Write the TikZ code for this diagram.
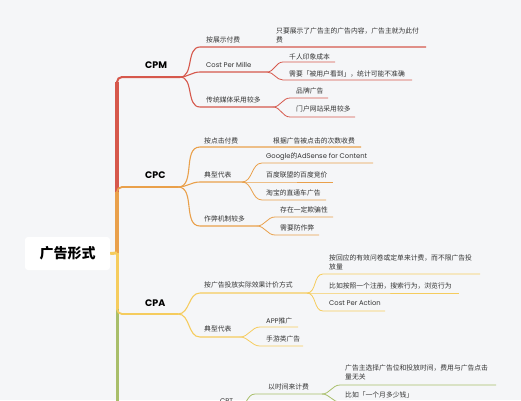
\documentclass[tikz,border=0pt]{standalone}
\usepackage{fontspec}
\setmainfont{Poppins}
\newfontfamily\cjk{Noto Sans CJK SC}
\newfontfamily\lat{Poppins}
\definecolor{bg}{HTML}{F5F6F8}
\definecolor{cRed}{HTML}{D6584C}
\definecolor{cOrg}{HTML}{E9A04B}
\definecolor{cYel}{HTML}{F5CC5E}
\definecolor{cGrn}{HTML}{A8BE6A}
\definecolor{txt}{HTML}{333333}
\begin{document}
\begin{tikzpicture}[x=1pt,y=-1pt,
  sub/.style={anchor=west,inner sep=0pt,font=\cjk\fontsize{6.8}{9}\selectfont,text=txt,align=left},
  maintopic/.style={anchor=west,inner sep=0pt,font=\lat\bfseries\fontsize{9.5}{11}\selectfont,text=black},
  rootbox/.style={fill=white,rounded corners=3pt,minimum width=85pt,minimum height=33pt,inner sep=0pt,font=\cjk\bfseries\fontsize{14}{16}\selectfont,text=black},
  l1/.style={line width=1.1pt},
  l2/.style={line width=0.8pt},
  curve/.style={out=0,in=180}]
\useasboundingbox[fill=bg] (0,0) rectangle (521,400);

% root
\node[rootbox] (root) at (67.5,253.5) {广告形式};
\coordinate (tr) at (117,253);
\coordinate (mCPM) at (180,77);
\coordinate (mCPC) at (178,187);
\coordinate (mCPA) at (178,314);
\coordinate (tbot) at (117,420);
\coordinate (kCPM) at (117,82);
\coordinate (kCPC) at (117,192);
\coordinate (kCPA) at (117,309);

% trunk
\draw[cRed,line width=2pt,rounded corners=5pt] (tr) |- (mCPM);
\draw[cRed,line width=3.6pt] (tr) -- (kCPM);
\draw[cGrn,line width=3pt] (tr) -- (tbot);
\draw[cOrg,line width=1.8pt,rounded corners=5pt] (tr) |- (mCPC);
\draw[cOrg,line width=3.2pt] (tr) -- (kCPC);
\draw[cYel,line width=1.8pt,rounded corners=5pt] (tr) |- (mCPA);
\draw[cYel,line width=3pt] (tr) -- (kCPA);
\draw[cYel,line width=3pt] (root.east) -- (tr);

% main topics
\node[maintopic] (tCPM) at (145,65) {CPM};
\node[maintopic] (tCPC) at (145,175) {CPC};
\node[maintopic] (tCPA) at (145,303) {CPA};

% ---------- CPM ----------
\coordinate (s1a) at (200,47); \coordinate (s1b) at (426,47);
\node[sub] (s1) at (206,40) {按展示付费};
\node[sub] (lf1) at (276,35.5) {只要展示了广告主的广告内容，广告主就为此付\\费};
\draw[cRed,l1] (mCPM) to[curve] (s1a) -- (s1b);

\coordinate (s2a) at (200,72); \coordinate (s2b) at (267,72);
\node[sub] (s2) at (206,65) {{\lat Cost Per Mille}};
\draw[cRed,l1] (mCPM) to[curve] (s2a) -- (s2b);
\coordinate (a21) at (283,62); \coordinate (b21) at (335,62);
\coordinate (a22) at (283,80); \coordinate (b22) at (412,80);
\node[sub] (lf21) at (289,57) {千人印象成本};
\node[sub] (lf22) at (289,74) {需要「被用户看到」，统计可能不准确};
\draw[cRed,l2] (s2b) to[curve] (a21) -- (b21);
\draw[cRed,l2] (s2b) to[curve] (a22) -- (b22);

\coordinate (s3a) at (200,107); \coordinate (s3b) at (273,107);
\node[sub] (s3) at (206,100) {传统媒体采用较多};
\draw[cRed,l1] (mCPM) to[curve] (s3a) -- (s3b);
\coordinate (a31) at (290,98); \coordinate (b31) at (328,98);
\coordinate (a32) at (290,117); \coordinate (b32) at (355,117);
\node[sub] (lf31) at (296,91) {品牌广告};
\node[sub] (lf32) at (296,109) {门户网站采用较多};
\draw[cRed,l2] (s3b) to[curve] (a31) -- (b31);
\draw[cRed,l2] (s3b) to[curve] (a32) -- (b32);

% ---------- CPC ----------
\coordinate (s4a) at (200,147); \coordinate (s4b) at (361,147);
\node[sub] (s4) at (204,141) {按点击付费};
\node[sub] (lf4) at (273,141) {根据广告被点击的次数收费};
\draw[cOrg,l1] (mCPC) to[curve] (s4a) -- (s4b);

\coordinate (s5a) at (200,182); \coordinate (s5b) at (242,182);
\node[sub] (s5) at (204,175) {典型代表};
\draw[cOrg,l1] (mCPC) to[curve] (s5a) -- (s5b);
\coordinate (a51) at (262,163); \coordinate (b51) at (373,163);
\coordinate (a52) at (262,182); \coordinate (b52) at (333,182);
\coordinate (a53) at (262,200); \coordinate (b53) at (326,200);
\node[sub] (lf51) at (266,157) {{\lat Google}的{\lat AdSense for Content}};
\node[sub] (lf52) at (266,175) {百度联盟的百度竞价};
\node[sub] (lf53) at (266,193) {淘宝的直通车广告};
\draw[cOrg,l2] (s5b) to[curve] (a51) -- (b51);
\draw[cOrg,l2] (s5b) -- (a52) -- (b52);
\draw[cOrg,l2] (s5b) to[curve] (a53) -- (b53);

\coordinate (s6a) at (200,226); \coordinate (s6b) at (257,226);
\node[sub] (s6) at (204,219) {作弊机制较多};
\draw[cOrg,l1] (mCPC) to[curve] (s6a) -- (s6b);
\coordinate (a61) at (275,217); \coordinate (b61) at (333,217);
\coordinate (a62) at (275,235); \coordinate (b62) at (319,235);
\node[sub] (lf61) at (280,210) {存在一定欺骗性};
\node[sub] (lf62) at (280,228) {需要防作弊};
\draw[cOrg,l2] (s6b) to[curve] (a61) -- (b61);
\draw[cOrg,l2] (s6b) to[curve] (a62) -- (b62);

% ---------- CPA ----------
\coordinate (s7a) at (200,293); \coordinate (s7b) at (307,293);
\node[sub] (s7) at (204,285) {按广告投放实际效果计价方式};
\draw[cYel,l1] (mCPA) to[curve] (s7a) -- (s7b);
\coordinate (a71) at (323,274); \coordinate (b71) at (480,274);
\coordinate (a72) at (323,293); \coordinate (b72) at (459,293);
\coordinate (a73) at (323,311); \coordinate (b73) at (385,311);
\node[sub] (lf71) at (329,262.5) {按回应的有效问卷或定单来计费，而不限广告投\\放量};
\node[sub] (lf72) at (329,286) {比如按照一个注册，搜索行为，浏览行为};
\node[sub] (lf73) at (329,303) {{\lat Cost Per Action}};
\draw[cYel,l2] (s7b) to[curve] (a71) -- (b71);
\draw[cYel,l2] (s7b) -- (a72) -- (b72);
\draw[cYel,l2] (s7b) to[curve] (a73) -- (b73);

\coordinate (s8a) at (200,337); \coordinate (s8b) at (240,337);
\node[sub] (s8) at (204,329) {典型代表};
\draw[cYel,l1] (mCPA) to[curve] (s8a) -- (s8b);
\coordinate (a81) at (260,327); \coordinate (b81) at (298,327);
\coordinate (a82) at (260,346); \coordinate (b82) at (303,346);
\node[sub] (lf81) at (266,321) {{\lat APP}推广};
\node[sub] (lf82) at (266,339) {手游类广告};
\draw[cYel,l2] (s8b) to[curve] (a81) -- (b81);
\draw[cYel,l2] (s8b) to[curve] (a82) -- (b82);

% ---------- CPT (cut off) ----------
\node[sub] (s9) at (220,401) {{\lat CPT}};
\coordinate (s9a) at (200,408); \coordinate (s9b) at (238,408);
\draw[cGrn,l1] (s9a) -- (s9b);
\coordinate (a91) at (255,394); \coordinate (b91) at (322,394);
\coordinate (a92) at (255,424); \coordinate (b92) at (300,424);
\node[sub] (lf9) at (268,387) {以时间来计费};
\draw[cGrn,l2] (s9b) to[curve] (a91) -- (b91);
\draw[cGrn,l2] (s9b) to[curve] (a92) -- (b92);
\coordinate (a101) at (340,385); \coordinate (b101) at (496,385);
\coordinate (a102) at (340,402); \coordinate (b102) at (440,402);
\node[sub] (lf101) at (345,372.5) {广告主选择广告位和投放时间，费用与广告点击\\量无关};
\node[sub] (lf102) at (345,395) {比如「一个月多少钱」};
\draw[cGrn,l2] (b91) to[curve] (a101) -- (b101);
\draw[cGrn,l2] (b91) to[curve] (a102) -- (b102);
\end{tikzpicture}
\end{document}
